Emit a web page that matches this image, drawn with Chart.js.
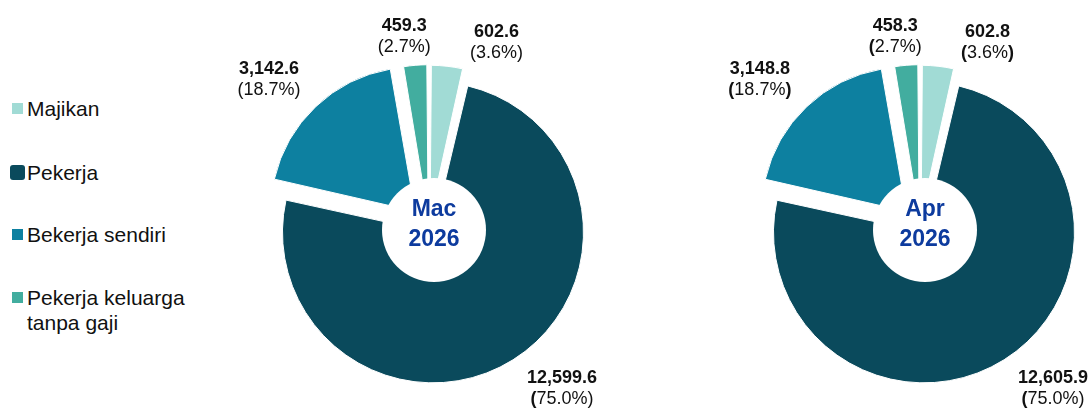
<!DOCTYPE html>
<html>
<head>
<meta charset="utf-8">
<script src="https://cdn.jsdelivr.net/npm/chart.js@4.4.1/dist/chart.umd.min.js"></script>
<style>
  html, body { margin: 0; padding: 0; background: #fff; overflow: hidden; }
  body { width: 1088px; height: 408px; position: relative; font-family: "Liberation Sans", Arial, sans-serif; }
  canvas { position: absolute; top: 0; }
  #pieMac { left: 229px; }
  #pieApr { left: 720px; }
  #legend { position: absolute; left: 0; top: 0; }
  .item { position: absolute; left: 27px; font-size: 21px; line-height: 25px; color: #111; width: 180px; }
  .mark { position: absolute; }
</style>
</head>
<body>
<div id="legend"></div>
<canvas id="pieMac" width="400" height="408"></canvas>
<canvas id="pieApr" width="400" height="408"></canvas>
<script>
var categories = ['Majikan', 'Pekerja', 'Bekerja sendiri', 'Pekerja keluarga tanpa gaji'];
var periods = [['Mac', '2026'], ['Apr', '2026']];
var valuesMac = [602.6, 12599.6, 3142.6, 459.3];
var valuesApr = [602.8, 12605.9, 3148.8, 458.3];

var colors = ['#a1dbd5', '#0a4a5c', '#0d80a0', '#42ad9f'];
// chart.js moves a slice by offset / 4
var offsets = [40, 30, 80, 40];
// which brackets of the % line are bold, as in the source [open, close]
var boldMac = [[0, 0], [1, 0], [0, 0], [0, 0]];
var boldApr = [[1, 1], [1, 0], [1, 1], [1, 0]];
// label nudges from a point 30px outside each slice
var labelNudge = [[48, -12], [41, 16], [-41, -21], [-10, -17]];

// legend
var legendTop = [96, 160, 222, 285];
var legend = document.getElementById('legend');
categories.forEach(function(c, i) {
    var d = document.createElement('div');
    d.className = 'item';
    d.style.top = legendTop[i] + 'px';
    d.textContent = c;
    legend.appendChild(d);
    var m = document.createElement('div');
    m.className = 'mark';
    var big = i === 1;
    var s = big ? 15 : 11;
    m.style.width = s + 'px';
    m.style.height = s + 'px';
    m.style.left = (big ? 10 : 12) + 'px';
    m.style.top = (legendTop[i] + 12.5 - s / 2) + 'px';
    m.style.background = colors[i];
    if (big) m.style.borderRadius = '3px';
    legend.appendChild(m);
});

function fmt(v) {
    return v.toLocaleString('en-US', {minimumFractionDigits: 1, maximumFractionDigits: 1});
}

function drawParts(ctx, parts, cx, y) {
    var w = 0;
    parts.forEach(function(p) {
        ctx.font = (p.b ? 'bold ' : '') + '18px "Liberation Sans", Arial, sans-serif';
        p.w = ctx.measureText(p.t).width;
        w += p.w;
    });
    var x = cx - w / 2;
    ctx.textAlign = 'left';
    parts.forEach(function(p) {
        ctx.font = (p.b ? 'bold ' : '') + '18px "Liberation Sans", Arial, sans-serif';
        ctx.fillText(p.t, x, y);
        x += p.w;
    });
}

var pieLabels = {
    id: 'pieLabels',
    afterDatasetsDraw: function(chart, args, opts) {
        var ctx = chart.ctx;
        var meta = chart.getDatasetMeta(0);
        var vals = chart.data.datasets[0].data;
        var total = vals.reduce(function(a, b) { return a + b; }, 0);
        var cx = 0, cy = 0;
        ctx.save();
        ctx.fillStyle = '#111';
        ctx.textBaseline = 'middle';
        meta.data.forEach(function(arc, i) {
            var p = arc.getProps(['x', 'y', 'startAngle', 'endAngle', 'outerRadius'], true);
            cx = p.x; cy = p.y;
            var mid = (p.startAngle + p.endAngle) / 2;
            var d = p.outerRadius + 30;
            var lx = p.x + Math.cos(mid) * d + labelNudge[i][0];
            var ly = p.y + Math.sin(mid) * d + labelNudge[i][1];
            drawParts(ctx, [{t: fmt(vals[i]), b: true}], lx, ly - 10.5);
            var pct = (vals[i] / total * 100).toFixed(1) + '%';
            var b = opts.bold[i];
            drawParts(ctx, [{t: '(', b: !!b[0]}, {t: pct, b: false}, {t: ')', b: !!b[1]}], lx, ly + 10.5);
        });
        // white hole with the period
        var hx = cx + 5, hy = cy + 4;
        ctx.beginPath();
        ctx.arc(hx, hy, 52, 0, Math.PI * 2);
        ctx.fillStyle = '#fff';
        ctx.fill();
        ctx.fillStyle = '#0d3b9e';
        ctx.textAlign = 'center';
        ctx.font = 'bold 23px "Liberation Sans", Arial, sans-serif';
        ctx.fillText(opts.period[0], hx, hy - 20);
        ctx.fillText(opts.period[1], hx, hy + 10);
        ctx.restore();
    }
};

function makePie(id, values, bold, period) {
    return new Chart(document.getElementById(id).getContext('2d'), {
        type: 'pie',
        data: {
            labels: categories,
            datasets: [{
                data: values,
                backgroundColor: colors,
                borderColor: '#fff',
                borderWidth: 1,
                offset: offsets,
                hoverOffset: 0
            }]
        },
        options: {
            responsive: false,
            animation: false,
            radius: 143,
            layout: { padding: { top: 44 } },
            events: [],
            plugins: {
                legend: { display: false },
                tooltip: { enabled: false },
                pieLabels: { bold: bold, period: period }
            }
        },
        plugins: [pieLabels]
    });
}

makePie('pieMac', valuesMac, boldMac, periods[0]);
makePie('pieApr', valuesApr, boldApr, periods[1]);
</script>
</body>
</html>
